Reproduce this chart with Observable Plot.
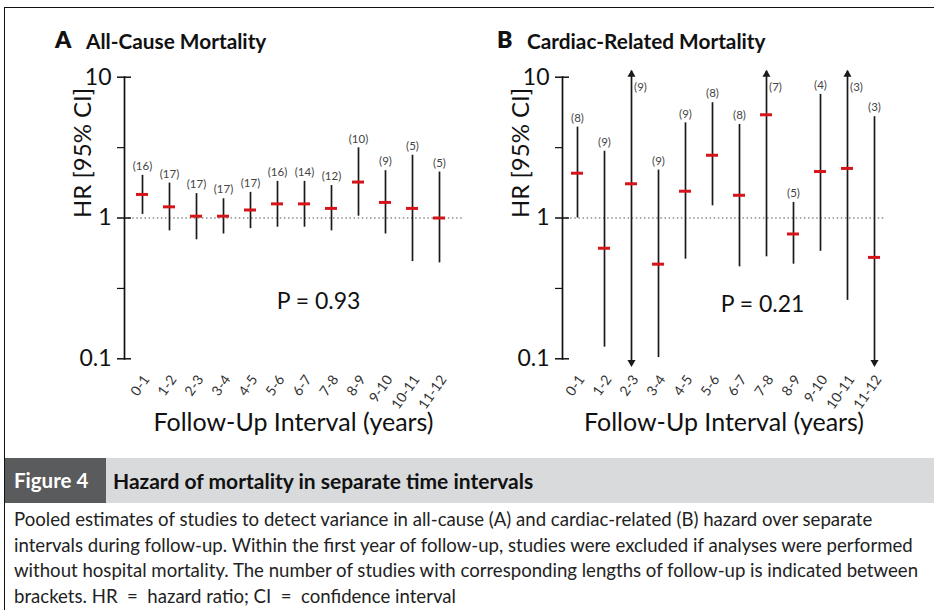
<!DOCTYPE html>
<html>
<head>
<meta charset="utf-8">
<script src="https://cdn.jsdelivr.net/npm/d3@7"></script>
<script src="https://cdn.jsdelivr.net/npm/@observablehq/plot@0.6"></script>
<style>
  html, body { margin: 0; padding: 0; background: #fff; }
  #wrap { position: relative; width: 934px; height: 610px; overflow: hidden; font-family: Lato, "Open Sans", sans-serif; color: #111; }
  .abs { position: absolute; white-space: pre; }
  #frame { position: absolute; left: 4px; top: 7px; width: 940px; height: 620px; border-left: 1.6px solid #111; border-top: 1.6px solid #111; pointer-events: none; z-index: 5; }
  .panelTitle { font-weight: 700; font-size: 20.8px; line-height: 21px; color: #111; }
  .panelLetter { font-weight: 800; font-size: 23px; line-height: 23px; color: #111; }
  #band { position: absolute; left: 5px; top: 458px; width: 940px; height: 45px; background: #d9dadc; }
  #figlab { position: absolute; left: 5px; top: 458px; width: 101px; height: 45px; background: #5a5b5d; color: #fff; font-weight: 700; font-size: 20.5px; line-height: 45px; padding-left: 9px; box-sizing: border-box; }
  #figtitle { position: absolute; left: 113px; top: 458px; line-height: 45px; font-weight: 700; font-size: 21px; color: #111; }
  #caption { position: absolute; left: 14px; top: 507px; font-size: 18.6px; line-height: 25.5px; color: #222; white-space: pre; }
</style>
</head>
<body>
<div id="wrap">
  <div id="plotA" class="abs" style="left:0px;top:0px;"></div>
  <div id="plotB" class="abs" style="left:467px;top:0px;"></div>
  <div class="abs panelLetter" style="left:55px;top:28px;">A</div>
  <div class="abs panelTitle" style="left:86px;top:29.5px;">All-Cause Mortality</div>
  <div class="abs panelLetter" style="left:497px;top:28px;">B</div>
  <div class="abs panelTitle" style="left:527px;top:29.5px;">Cardiac-Related Mortality</div>
  <div id="band"></div>
  <div id="figlab">Figure 4</div>
  <div id="figtitle">Hazard of mortality in separate time intervals</div>
  <div id="caption"></div>
  <div id="frame"></div>
</div>
<script>
// ---- data ----
const categories = ["0-1","1-2","2-3","3-4","4-5","5-6","6-7","7-8","8-9","9-10","10-11","11-12"];

// Panel A: all-cause mortality
const nA   = [16, 17, 17, 17, 17, 16, 14, 12, 10, 9, 5, 5];
const hrA  = [1.47, 1.20, 1.03, 1.03, 1.14, 1.26, 1.26, 1.17, 1.80, 1.29, 1.17, 1.00];
const lowA = [1.06, 0.81, 0.70, 0.77, 0.84, 0.86, 0.86, 0.81, 1.03, 0.77, 0.49, 0.48];
const upA  = [2.01, 1.77, 1.49, 1.37, 1.52, 1.82, 1.82, 1.70, 3.15, 2.17, 2.79, 2.12];

// Panel B: cardiac-related mortality (values beyond the axis end in arrows)
const nB   = [8, 9, 9, 9, 9, 8, 8, 7, 5, 4, 3, 3];
const hrB  = [2.08, 0.61, 1.75, 0.47, 1.55, 2.79, 1.45, 5.41, 0.77, 2.14, 2.25, 0.525];
const lowB = [1.00, 0.121, 0.09, 0.102, 0.51, 1.22, 0.45, 0.53, 0.47, 0.58, 0.26, 0.09];
const upB  = [4.42, 2.98, 11.0, 2.19, 4.74, 6.59, 4.62, 11.0, 1.29, 7.55, 11.0, 5.24];

const majorTicks = [0.1, 1, 10];
const minorTicks = [0.316, 3.16];
const yTitle = "HR [95% CI]";
const xTitle = "Follow-Up Interval (years)";
const pA = "P = 0.93";
const pB = "P = 0.21";

const captionLines = [
  "Pooled estimates of studies to detect variance in all-cause (A) and cardiac-related (B) hazard over separate",
  "intervals during follow-up. Within the first year of follow-up, studies were excluded if analyses were performed",
  "without hospital mortality. The number of studies with corresponding lengths of follow-up is indicated between",
  "brackets. HR  =  hazard ratio; CI  =  confidence interval"
];
document.getElementById("caption").textContent = captionLines.join("\n");

function rows(n, hr, low, up) {
  return categories.map((c, i) => ({cat: c, n: n[i], hr: hr[i], low: low[i], up: up[i]}));
}

function panel(data, opts) {
  const W = 467, H = 455;
  const top = 76.7, bottom = 358.3;
  const frameW = W - opts.marginLeft - opts.marginRight;
  const normal = data.filter(d => d.up <= 10);
  const truncUp = data.filter(d => d.up > 10);
  const truncDown = data.filter(d => d.low < 0.1);
  return Plot.plot({
    width: W,
    height: H,
    marginLeft: opts.marginLeft,
    marginRight: opts.marginRight,
    marginTop: top,
    marginBottom: H - bottom,
    style: {fontFamily: "Lato, 'Open Sans', sans-serif", background: "transparent", color: "#111", overflow: "visible"},
    x: {type: "band", domain: categories, range: opts.xRange, padding: 0.5},
    y: {type: "log", domain: [0.1, 10], range: [bottom, top]},
    marks: [
      Plot.ruleY([1], {stroke: "#555", strokeWidth: 1.1, strokeDasharray: "1.5,2.6"}),
      Plot.frame({anchor: "left", stroke: "#111", strokeWidth: 1.7}),
      // "+" shaped major ticks crossing the axis line
      Plot.ruleY(majorTicks, {stroke: "#111", strokeWidth: 1.5, insetLeft: -7, insetRight: frameW - 7}),
      // minor ticks on the left of the axis only
      Plot.ruleY(minorTicks, {stroke: "#111", strokeWidth: 1.2, insetLeft: -7, insetRight: frameW}),
      Plot.axisY({ticks: majorTicks, tickSize: 0, tickPadding: 13, tickFormat: d => String(d), fontSize: 23, label: null}),
      Plot.axisX({tickSize: 0, tickRotate: -55, tickPadding: 18, dx: 4, fontSize: 14, label: null, fill: "#333"}),
      Plot.ruleX(data, {x: "cat", y1: "low", y2: "up", stroke: "#1a1a1a", strokeWidth: 1.7}),
      Plot.dot(truncUp, {x: "cat", y: "up", symbol: "triangle", r: 3, fill: "#1a1a1a", stroke: null, dy: 3}),
      Plot.dot(truncDown, {x: "cat", y: "low", symbol: "triangle", r: 3, fill: "#1a1a1a", stroke: null, rotate: 180, dy: -3}),
      Plot.tickY(data, {x: "cat", y: "hr", stroke: "#d7141a", strokeWidth: 3, insetLeft: 1, insetRight: 1}),
      Plot.text(normal, {x: "cat", y: "up", text: d => `(${d.n})`, dy: -9, fontSize: 11.5, fill: "#444"}),
      Plot.text(truncUp, {x: "cat", y: "up", text: d => `(${d.n})`, dx: 9, dy: 16, fontSize: 11.5, fill: "#444"}),
      Plot.text([opts.p], {x: () => opts.pCat, y: () => opts.pY, text: d => d, dx: opts.pDx, fontSize: 23, fill: "#111"}),
      Plot.text([yTitle], {frameAnchor: "left", text: d => d, rotate: -90, dx: opts.yTitleDx, fontSize: 24, fill: "#111"}),
      Plot.text([xTitle], {frameAnchor: "bottom", text: d => d, dy: 72, fontSize: 25, fill: "#111"})
    ]
  });
}

document.getElementById("plotA").appendChild(panel(rows(nA, hrA, lowA, upA), {
  marginLeft: 124, marginRight: 5, xRange: [115.77, 464.63],
  p: pA, pCat: "6-7", pY: 0.255, pDx: 14, yTitleDx: -41
}));
document.getElementById("plotB").appendChild(panel(rows(nB, hrB, lowB, upB), {
  marginLeft: 95, marginRight: 49, xRange: [89.43, 427.27],
  p: pB, pCat: "7-8", pY: 0.243, pDx: -4, yTitleDx: -41
}));
</script>
</body>
</html>
